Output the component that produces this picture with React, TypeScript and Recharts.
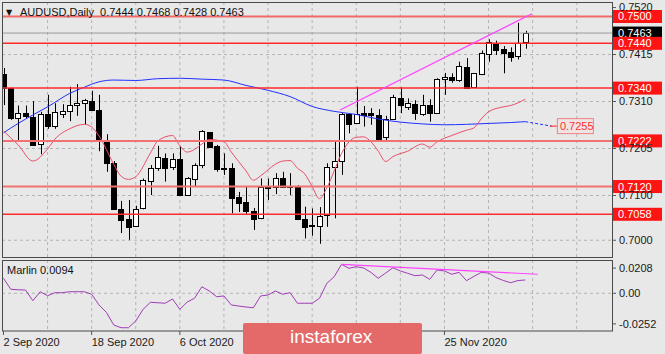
import { Bar, CartesianGrid, ComposedChart, Line, ReferenceDot, ReferenceLine, XAxis, YAxis } from "recharts"

// AUDUSD daily, 2 Sep 2020 .. 10 Dec 2020 (72 bars)
const openP = [0.7372, 0.734, 0.7274, 0.7284, 0.7276, 0.7214, 0.7281, 0.7256, 0.7281, 0.7289, 0.7302, 0.7306, 0.7311, 0.7291, 0.7224, 0.7172, 0.707, 0.7047, 0.7032, 0.7071, 0.7132, 0.7161, 0.7183, 0.7164, 0.7181, 0.7101, 0.7137, 0.7168, 0.7241, 0.7211, 0.7162, 0.7161, 0.7096, 0.7085, 0.7065, 0.705, 0.7117, 0.7118, 0.714, 0.7122, 0.7122, 0.7047, 0.7035, 0.7032, 0.7056, 0.7164, 0.7176, 0.7282, 0.7263, 0.7284, 0.7284, 0.728, 0.7231, 0.727, 0.7317, 0.7297, 0.7304, 0.7282, 0.7302, 0.7285, 0.736, 0.7364, 0.7357, 0.7387, 0.7342, 0.7372, 0.7416, 0.744, 0.7427, 0.7421, 0.7412, 0.7444]
const highP = [0.7385, 0.7341, 0.7301, 0.7301, 0.7311, 0.7287, 0.7325, 0.7306, 0.7304, 0.7343, 0.7349, 0.7316, 0.7334, 0.7325, 0.7237, 0.7177, 0.7088, 0.709, 0.7077, 0.7138, 0.7168, 0.7211, 0.7194, 0.7194, 0.7211, 0.7141, 0.7172, 0.7246, 0.7242, 0.7213, 0.7194, 0.7172, 0.7108, 0.7119, 0.7072, 0.7138, 0.7138, 0.715, 0.7153, 0.715, 0.7123, 0.7075, 0.7071, 0.7074, 0.7172, 0.7222, 0.7284, 0.7284, 0.7343, 0.73, 0.7295, 0.7293, 0.7278, 0.7325, 0.7342, 0.7317, 0.7313, 0.7325, 0.7315, 0.7362, 0.7374, 0.7373, 0.7399, 0.7407, 0.7373, 0.7424, 0.7449, 0.7446, 0.7434, 0.7431, 0.7486, 0.7468]
const lowP = [0.7302, 0.7269, 0.7224, 0.7273, 0.7211, 0.7192, 0.7249, 0.7249, 0.7273, 0.7266, 0.7278, 0.7258, 0.7291, 0.7199, 0.7153, 0.7068, 0.7016, 0.7001, 0.703, 0.7069, 0.7101, 0.7155, 0.7131, 0.7157, 0.71, 0.7099, 0.7121, 0.7161, 0.7206, 0.7153, 0.7146, 0.706, 0.7063, 0.7059, 0.7023, 0.7047, 0.709, 0.7103, 0.7117, 0.7101, 0.7045, 0.7004, 0.701, 0.6992, 0.703, 0.7049, 0.7146, 0.7239, 0.7261, 0.7254, 0.7258, 0.7224, 0.7224, 0.7269, 0.7284, 0.7291, 0.7269, 0.7278, 0.7265, 0.7284, 0.7325, 0.7352, 0.7354, 0.734, 0.734, 0.7369, 0.7399, 0.7414, 0.7373, 0.7399, 0.7404, 0.7428]
const closeP = [0.734, 0.7273, 0.7284, 0.7278, 0.7213, 0.7281, 0.7255, 0.7286, 0.7289, 0.7302, 0.7306, 0.7313, 0.7291, 0.7222, 0.7172, 0.707, 0.7045, 0.703, 0.707, 0.7135, 0.7162, 0.7185, 0.7162, 0.7181, 0.7101, 0.7138, 0.7168, 0.7245, 0.7208, 0.7159, 0.7161, 0.7094, 0.7083, 0.7065, 0.7047, 0.7118, 0.7119, 0.7138, 0.712, 0.7121, 0.7047, 0.703, 0.7033, 0.7055, 0.7163, 0.7176, 0.7282, 0.726, 0.7282, 0.728, 0.728, 0.7226, 0.727, 0.7319, 0.7302, 0.7306, 0.7284, 0.7302, 0.7285, 0.736, 0.7364, 0.7357, 0.7389, 0.734, 0.7373, 0.7419, 0.7442, 0.7425, 0.7419, 0.741, 0.7441, 0.7463]

// moving averages, read at the bars where they could be read
const blueMa = [[0, 0.724], [2, 0.7261], [4, 0.728], [6, 0.7298], [9, 0.7328], [11, 0.7342], [13, 0.7354], [15, 0.7358], [18, 0.7357], [21, 0.7361], [24, 0.7362], [27, 0.736], [30, 0.7358], [33, 0.7346], [36, 0.7335], [39, 0.7321], [42, 0.7299], [45, 0.7288], [48, 0.7281], [51, 0.7271], [54, 0.7264], [57, 0.726], [60, 0.7258], [63, 0.7259], [66, 0.7261], [69, 0.7263], [71, 0.7265]]
const redMa = [[0, 0.7244], [2, 0.7213], [4, 0.7177], [6, 0.7204], [7, 0.7226], [9, 0.7249], [11, 0.7259], [12, 0.7253], [13, 0.7233], [15, 0.717], [16, 0.7143], [17, 0.7136], [18, 0.7142], [20, 0.7195], [21, 0.7222], [23, 0.7234], [24, 0.7211], [25, 0.7197], [26, 0.7203], [27, 0.7215], [28, 0.7225], [30, 0.722], [31, 0.7197], [33, 0.7155], [34, 0.7134], [35, 0.7144], [37, 0.717], [38, 0.7177], [39, 0.7178], [40, 0.7161], [41, 0.7148], [42, 0.712], [43, 0.7093], [44, 0.7117], [45, 0.7155], [46, 0.7194], [48, 0.723], [49, 0.7231], [50, 0.722], [51, 0.7199], [52, 0.7176], [53, 0.7187], [55, 0.7199], [57, 0.7215], [58, 0.7208], [59, 0.722], [61, 0.7234], [63, 0.7246], [64, 0.7251], [65, 0.7271], [66, 0.7287], [68, 0.7298], [69, 0.7301], [71, 0.7315]]

const marlin = [0.0124, 0.0033, 0.0029, 0.0027, -0.0061, 0.0013, -0.002, 0.0005, 0.0005, 0.0013, 0.0013, 0.0013, -0.0008, -0.0096, -0.0157, -0.0261, -0.0284, -0.0284, -0.0228, -0.0132, -0.0074, -0.0078, -0.0082, -0.0047, -0.0132, -0.0072, -0.0041, 0.0054, 0.0019, -0.0028, -0.0022, -0.0096, -0.0105, -0.0113, -0.0119, -0.0022, -0.0014, 0.0019, -0.0008, 0.0005, -0.0082, -0.0082, -0.0082, -0.0041, 0.0082, 0.0137, 0.0239, 0.0206, 0.0219, 0.0209, 0.0172, 0.0124, 0.0167, 0.0211, 0.0184, 0.0165, 0.0145, 0.0151, 0.0115, 0.0192, 0.0184, 0.0157, 0.0173, 0.0104, 0.0139, 0.0172, 0.0167, 0.013, 0.0106, 0.0087, 0.0105, 0.011]

// date labels that are not under the watermark
const dateLabels = ["2 Sep 2020", "18 Sep 2020", "6 Oct 2020", "25 Nov 2020"]
const dateIdx = [0, 12, 24, 60]
const gridIdx = [6, 12, 18, 24, 30, 36, 42, 48, 54, 60, 66, 72, 78]
const priceTicks = [0.752, 0.7415, 0.731, 0.7205, 0.71, 0.7]
const levels = [0.75, 0.744, 0.734, 0.7222, 0.712, 0.7058]
const lastPrice = 0.7463
const maTarget = 0.7255
const marlinTicks = [0.0208, 0, -0.0252]
const priceTrend = [{ x: 45.8, y: 0.7291 }, { x: 71.9, y: 0.7506 }]
const maTail = [{ x: 71, y: 0.7265 }, { x: 74.6, y: 0.7255 }]
const marlinTrend = [{ x: 46, y: 0.0239 }, { x: 72.7, y: 0.0157 }]

const FONT = "'Liberation Sans', Arial, sans-serif"
const X_DOMAIN = [-0.2, 82.8]

const toMap = (pts: number[][]) => new Map(pts.map(([i, v]) => [i, v]))
const blueMap = toMap(blueMa)
const redMap = toMap(redMa)

const rows = openP.map((o, i) => ({
	i,
	open: o,
	high: highP[i],
	low: lowP[i],
	close: closeP[i],
	range: [lowP[i], highP[i]],
	blue: blueMap.get(i) ?? null,
	red: redMap.get(i) ?? null,
	marlin: marlin[i],
}))

function Candle(props: any) {
	const { x, y, width, height, payload } = props
	if (height == null || !payload) return null
	const { open, high, low, close } = payload
	const k = height / (high - low)
	const py = (v: number) => y + (high - v) * k
	const cx = Math.round(x + width / 2) + 0.5
	const top = Math.round(py(Math.max(open, close))) + 0.5
	const bot = Math.round(py(Math.min(open, close))) + 0.5
	const up = close >= open
	return (
		<g>
			<line x1={cx} x2={cx} y1={y} y2={y + height} stroke="#000" />
			<rect x={cx - 3} y={top} width={5} height={Math.max(bot - top, 1)} fill={up ? "#fff" : "#000"} stroke="#000" />
		</g>
	)
}

function PriceTag(props: any) {
	const { viewBox, text, fill } = props
	if (!viewBox) return null
	const left = viewBox.x + viewBox.width + 1
	const cy = viewBox.y
	return (
		<g>
			<rect x={left} y={cy - 6.5} width={49} height={13} fill={fill} />
			<text x={left + 5} y={cy + 4} fill="#fff" fontSize={11} fontFamily={FONT}>
				{text}
			</text>
		</g>
	)
}

function TargetTag(props: any) {
	const { cx, cy } = props
	if (cx == null) return null
	return (
		<g>
			<line x1={cx - 7} x2={cx} y1={cy} y2={cy} stroke="#ff2020" />
			<rect x={cx + 0.5} y={cy - 7.5} width={36} height={15} fill="#efe3e3" stroke="#f08080" />
			<text x={cx + 3} y={cy + 4} fill="#ff3030" fontSize={11} fontFamily={FONT}>
				{maTarget.toFixed(4)}
			</text>
		</g>
	)
}

function DateTick(props: any) {
	const { x, y, payload } = props
	const label = dateLabels[dateIdx.indexOf(payload.value)]
	return (
		<text x={x} y={y + 9} fontSize={11} fill="#1a1a1a" fontFamily={FONT} textAnchor="start">
			{label}
		</text>
	)
}

export default function App() {
	const levelColor = ["#f06a6a", "#ff2a2a", "#ff2a2a", "#f07272", "#f07272", "#ff2a2a"]
	const levelWidth = [2, 1.5, 1.5, 2, 2, 1.5]
	return (
		<div style={{ position: "absolute", left: 0, top: 0, width: 665, height: 354, background: "#e8e8e8", overflow: "hidden", fontFamily: FONT }}>
			<div style={{ position: "absolute", left: 0, top: 0 }}>
				<ComposedChart width={665} height={260} data={rows} margin={{ top: 2, right: 0, left: 2, bottom: 2 }}>
					<CartesianGrid stroke="#b4b4b4" strokeDasharray="3 3" verticalValues={gridIdx} horizontalValues={priceTicks.slice(1)} />
					<XAxis type="number" dataKey="i" domain={X_DOMAIN} ticks={gridIdx} allowDataOverflow hide />
					<YAxis
						orientation="right"
						width={53}
						domain={[0.69603, 0.75324]}
						allowDataOverflow
						ticks={priceTicks}
						interval={0}
						tickFormatter={(v: number) => v.toFixed(4)}
						tick={{ fontSize: 11, fill: "#1a1a1a", fontFamily: FONT }}
						tickSize={4}
						tickMargin={3}
						tickLine={{ stroke: "#555" }}
						axisLine={false}
					/>
					<Bar dataKey="range" barSize={6} shape={Candle} isAnimationActive={false} />
					<Line dataKey="blue" type="monotone" stroke="#2030ff" strokeWidth={1} dot={false} connectNulls isAnimationActive={false} />
					<Line dataKey="red" type="monotone" stroke="#e8506a" strokeWidth={1} dot={false} connectNulls isAnimationActive={false} />
					<ReferenceLine y={lastPrice} stroke="#9a9a9a" label={<PriceTag text={lastPrice.toFixed(4)} fill="#000" />} />
					{levels.map((lv, k) => (
						<ReferenceLine key={lv} y={lv} stroke={levelColor[k]} strokeWidth={levelWidth[k]} label={<PriceTag text={lv.toFixed(4)} fill="#ff1414" />} />
					))}
					<ReferenceLine segment={priceTrend} stroke="#ff44ff" strokeWidth={1.2} ifOverflow="visible" />
					<ReferenceLine segment={maTail} stroke="#2030ff" strokeDasharray="3 2" ifOverflow="visible" />
					<ReferenceDot x={75.3} y={maTarget} shape={TargetTag} ifOverflow="visible" />
				</ComposedChart>
			</div>
			<div style={{ position: "absolute", left: 0, top: 258 }}>
				<ComposedChart width={665} height={96} data={rows} margin={{ top: 2, right: 0, left: 2, bottom: 0 }}>
					<CartesianGrid stroke="#b4b4b4" strokeDasharray="3 3" verticalValues={gridIdx} horizontalValues={[0]} />
					<XAxis
						type="number"
						dataKey="i"
						domain={X_DOMAIN}
						allowDataOverflow
						ticks={dateIdx}
						interval={0}
						height={23}
						tick={<DateTick />}
						tickSize={4}
						tickMargin={2}
						tickLine={{ stroke: "#555" }}
						axisLine={false}
					/>
					<YAxis
						orientation="right"
						width={53}
						domain={[-0.03108, 0.02745]}
						allowDataOverflow
						ticks={marlinTicks}
						interval={0}
						tickFormatter={(v: number) => (v === 0 ? "0.00" : v.toFixed(4))}
						tick={{ fontSize: 11, fill: "#1a1a1a", fontFamily: FONT }}
						tickSize={4}
						tickMargin={3}
						tickLine={{ stroke: "#555" }}
						axisLine={false}
					/>
					<Line dataKey="marlin" type="linear" stroke="#a03cb4" strokeWidth={1} dot={false} isAnimationActive={false} />
					<ReferenceLine segment={marlinTrend} stroke="#ff44ff" strokeWidth={1.2} ifOverflow="visible" />
				</ComposedChart>
			</div>
			<svg width={665} height={354} style={{ position: "absolute", left: 0, top: 0, pointerEvents: "none" }}>
				<rect x={2.5} y={2.5} width={610} height={255} fill="none" stroke="#4a4a4a" />
				<rect x={2.5} y={260.5} width={610} height={70.5} fill="none" stroke="#4a4a4a" />
				<text x={6} y={15} fontSize={8} fill="#111" fontFamily="'DejaVu Sans', sans-serif">
					▼
				</text>
				<text x={20} y={16} fontSize={11} fill="#111" fontFamily={FONT} style={{ whiteSpace: "pre" }}>
					AUDUSD,Daily  0.7444 0.7468 0.7428 0.7463
				</text>
				<text x={7} y={274} fontSize={11} fill="#111" fontFamily={FONT}>
					Marlin 0.0094
				</text>
				<rect x={243} y={323} width={179} height={31} rx={2} fill="#e46a6a" />
				<text x={290} y={343} fontSize={19} fill="#fff" fontFamily={FONT}>
					instaforex
				</text>
			</svg>
		</div>
	)
}
